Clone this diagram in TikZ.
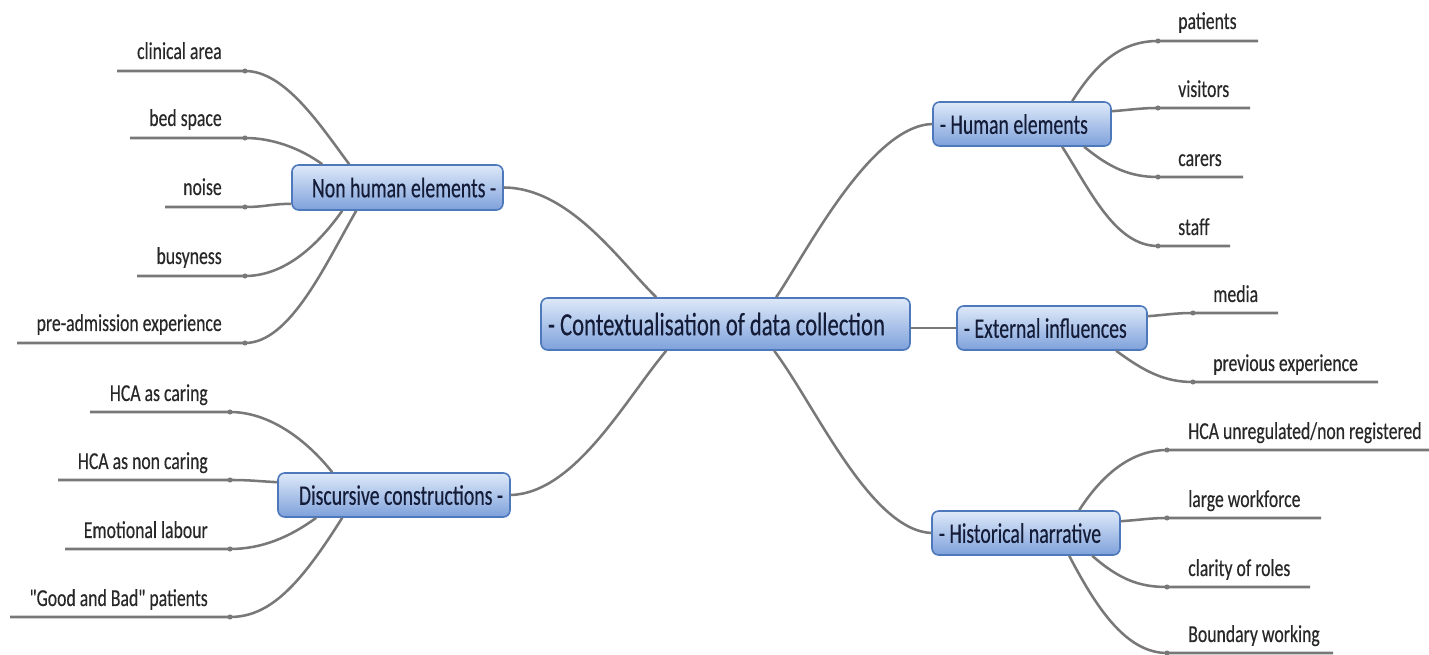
\documentclass[tikz,border=0pt]{standalone}
\usepackage{fontspec}
\setmainfont{Carlito}[FakeStretch=0.73, FakeBold=0.3, Ligatures=TeXOff]
\newfontfamily\topicface{Carlito}[FakeStretch=0.70, FakeBold=0.3]
\usetikzlibrary{calc}

\definecolor{linkgray}{RGB}{120,120,120}
\definecolor{boxedge}{RGB}{78,120,188}
\definecolor{boxtop}{RGB}{222,233,249}
\definecolor{boxbottom}{RGB}{126,161,219}
\definecolor{boxtext}{RGB}{20,28,55}
\definecolor{leaftext}{RGB}{40,40,40}

\tikzset{
  topicbox/.style={draw=boxedge, line width=1.2pt, rounded corners=5pt,
    top color=boxtop, bottom color=boxbottom, text=boxtext,
    inner xsep=0pt, inner ysep=0pt, text depth=0pt, minimum height=33pt},
  rootfont/.style={font=\topicface\fontsize{24.3}{27}\selectfont},
  topicfont/.style={font=\topicface\fontsize{21.2}{24}\selectfont},
  leaf/.style={text=leaftext, font=\fontsize{18.2}{21}\selectfont, inner sep=0pt},
  link/.style={draw=linkgray, line width=1.9pt},
  knot/.style={fill=linkgray}
}

\begin{document}
\begin{tikzpicture}[x=0.75pt, y=-0.75pt]
\fill[white] (0,0) rectangle (1429,655);
\useasboundingbox (0,0) rectangle (1429,655);

% ---------- topics ----------
\node[topicbox, rootfont, minimum width=276.75pt, minimum height=39pt] (root) at (725.5,324)
  {\makebox[266.25pt][l]{- Contextualisation of data collection}};
\node[topicbox, topicfont, minimum width=158.25pt, minimum height=33.75pt] (nh) at (397.5,187.5)
  {\makebox[147.75pt][r]{Non human elements -}};
\node[topicbox, topicfont, minimum width=133.5pt] (he) at (1022,124)
  {\makebox[123pt][l]{- Human elements}};
\node[topicbox, topicfont, minimum width=142.5pt] (ei) at (1052,328)
  {\makebox[132pt][l]{- External influences}};
\node[topicbox, topicfont, minimum width=174pt] (dc) at (394,495)
  {\makebox[163.5pt][r]{Discursive constructions -}};
\node[topicbox, topicfont, minimum width=141pt] (hn) at (1026,533)
  {\makebox[130.5pt][l]{- Historical narrative}};

% ---------- main links ----------
\draw[link] ($(root.north west)+(116,0)$) .. controls (620,262) and (570,188) .. (nh.east);
\draw[link] ($(root.north west)+(236,0)$) .. controls (805,255) and (870,126) .. (he.west);
\draw[link] (root.east |- ei.west) -- (ei.west);
\draw[link] ($(root.south west)+(126,0)$) .. controls (625,400) and (575,493) .. (dc.east);
\draw[link] ($(root.south west)+(234,0)$) .. controls (815,405) and (870,530) .. (hn.west);

% ---------- Non human elements ----------
\coordinate (a1) at (245,71);  \coordinate (a1e) at (117,71);
\coordinate (a2) at (245,138); \coordinate (a2e) at (130,138);
\coordinate (a3) at (245,207); \coordinate (a3e) at (165,207);
\coordinate (a4) at (245,276); \coordinate (a4e) at (137,276);
\coordinate (a5) at (245,343); \coordinate (a5e) at (17,343);
\draw[link] ($(nh.north west)+(58,0)$) .. controls (320,125) and (285,71) .. (a1) -- (a1e);
\draw[link] ($(nh.north west)+(31,0)$) .. controls (300,148) and (272,138) .. (a2) -- (a2e);
\draw[link] ($(nh.south west)+(0,-7)$) .. controls (270,204) and (265,207) .. (a3) -- (a3e);
\draw[link] ($(nh.south west)+(51,0)$) .. controls (318,245) and (285,276) .. (a4) -- (a4e);
\draw[link] ($(nh.south west)+(65,0)$) .. controls (325,265) and (290,343) .. (a5) -- (a5e);
\node[leaf, anchor=base east] (t1) at (222,59) {clinical area};
\node[leaf, anchor=base east] (t2) at (222,126) {bed space};
\node[leaf, anchor=base east] (t3) at (222,195) {noise};
\node[leaf, anchor=base east] (t4) at (222,264) {busyness};
\node[leaf, anchor=base east] (t5) at (222,331) {pre-admission experience};

% ---------- Discursive constructions ----------
\coordinate (b1) at (230,412); \coordinate (b1e) at (90,412);
\coordinate (b2) at (230,480); \coordinate (b2e) at (58,480);
\coordinate (b3) at (230,549); \coordinate (b3e) at (65,549);
\coordinate (b4) at (230,617); \coordinate (b4e) at (10,617);
\draw[link] ($(dc.north west)+(55,0)$) .. controls (305,438) and (268,412) .. (b1) -- (b1e);
\draw[link] ($(dc.north west)+(0,10)$) .. controls (255,481) and (250,480) .. (b2) -- (b2e);
\draw[link] ($(dc.south west)+(39,0)$) .. controls (290,537) and (262,549) .. (b3) -- (b3e);
\draw[link] ($(dc.south west)+(65,0)$) .. controls (300,585) and (270,617) .. (b4) -- (b4e);
\node[leaf, anchor=base east] (u1) at (208,401) {HCA as caring};
\node[leaf, anchor=base east] (u2) at (208,469) {HCA as non caring};
\node[leaf, anchor=base east] (u3) at (208,538) {Emotional labour};
\node[leaf, anchor=base east] (u4) at (208,606) {"Good and Bad" patients};

% ---------- Human elements ----------
\coordinate (c1) at (1158,41);  \coordinate (c1e) at (1258,41);
\coordinate (c2) at (1158,108); \coordinate (c2e) at (1250,108);
\coordinate (c3) at (1158,177); \coordinate (c3e) at (1243,177);
\coordinate (c4) at (1158,246); \coordinate (c4e) at (1230,246);
\draw[link] ($(he.north west)+(140,0)$) .. controls (1095,65) and (1120,41) .. (c1) -- (c1e);
\draw[link] ($(he.north east)+(0,10)$) .. controls (1130,110) and (1140,108) .. (c2) -- (c2e);
\draw[link] ($(he.south west)+(152,0)$) .. controls (1110,168) and (1130,177) .. (c3) -- (c3e);
\draw[link] ($(he.south west)+(130,0)$) .. controls (1090,190) and (1115,246) .. (c4) -- (c4e);
\node[leaf, anchor=base west] (v1) at (1178,29) {patients};
\node[leaf, anchor=base west] (v2) at (1178,97) {visitors};
\node[leaf, anchor=base west] (v3) at (1178,166) {carers};
\node[leaf, anchor=base west] (v4) at (1178,235) {staff};

% ---------- External influences ----------
\coordinate (d1) at (1193,313); \coordinate (d1e) at (1278,313);
\coordinate (d2) at (1193,382); \coordinate (d2e) at (1378,382);
\draw[link] ($(ei.north east)+(0,11)$) .. controls (1165,315) and (1175,313) .. (d1) -- (d1e);
\draw[link] ($(ei.south west)+(160,0)$) .. controls (1145,372) and (1165,382) .. (d2) -- (d2e);
\node[leaf, anchor=base west] (w1) at (1213,302) {media};
\node[leaf, anchor=base west] (w2) at (1213,371) {previous experience};

% ---------- Historical narrative ----------
\coordinate (e1) at (1167,450); \coordinate (e1e) at (1429,450);
\coordinate (e2) at (1167,518); \coordinate (e2e) at (1321,518);
\coordinate (e3) at (1167,587); \coordinate (e3e) at (1310,587);
\coordinate (e4) at (1167,653); \coordinate (e4e) at (1333,653);
\draw[link] ($(hn.north west)+(148,0)$) .. controls (1105,470) and (1135,450) .. (e1) -- (e1e);
\draw[link] ($(hn.north east)+(0,11)$) .. controls (1140,520) and (1150,518) .. (e2) -- (e2e);
\draw[link] ($(hn.south west)+(161,0)$) .. controls (1120,580) and (1140,587) .. (e3) -- (e3e);
\draw[link] ($(hn.south west)+(138,0)$) .. controls (1095,605) and (1125,653) .. (e4) -- (e4e);
\node[leaf, anchor=base west] (x1) at (1188,439) {HCA unregulated/non registered};
\node[leaf, anchor=base west] (x2) at (1188,507) {large workforce};
\node[leaf, anchor=base west] (x3) at (1188,576) {clarity of roles};
\node[leaf, anchor=base west] (x4) at (1188,642) {Boundary working};

% ---------- junction knots ----------
\foreach \k in {a1,a2,a3,a4,a5,b1,b2,b3,b4,c1,c2,c3,c4,d1,d2,e1,e2,e3,e4}
  \fill[knot] (\k) circle (1.9pt);
\end{tikzpicture}
\end{document}
